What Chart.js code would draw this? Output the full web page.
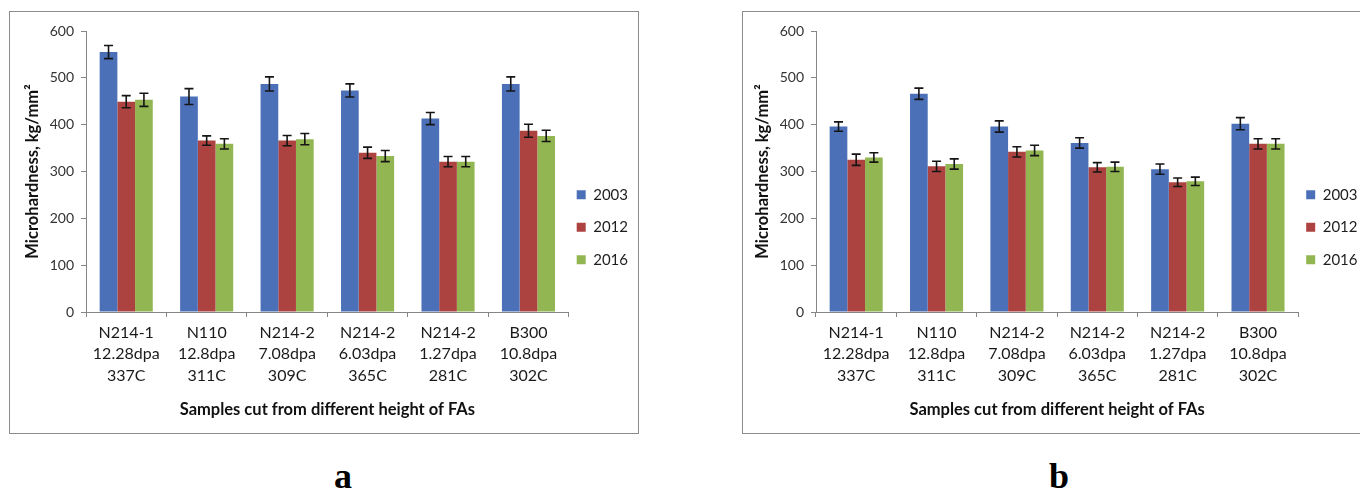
<!DOCTYPE html>
<html>
<head>
<meta charset="utf-8">
<script src="https://cdn.jsdelivr.net/npm/chart.js@4.4.1/dist/chart.umd.min.js"></script>
<style>
  html, body { margin: 0; padding: 0; background: #fff; }
  body { width: 1360px; height: 489px; overflow: hidden; position: relative; }
  .frame { position: absolute; top: 11px; width: 630px; height: 423px; border: 1px solid #8c8c8c; box-sizing: border-box; background: #fff; }
  #frameA { left: 9px; }
  #frameB { left: 742px; }
  .frame canvas { display: block; }
  .panel { position: absolute; top: 458px; font: bold 36px "Liberation Serif", "DejaVu Serif", serif; line-height: 36px; transform: translateX(-50%); color: #000; }
</style>
</head>
<body>
<div class="frame" id="frameA"><canvas id="chartA" width="628" height="421"></canvas></div>
<div class="frame" id="frameB"><canvas id="chartB" width="628" height="421"></canvas></div>
<div class="panel" style="left:343px">a</div>
<div class="panel" style="left:1059px">b</div>

<script>
// Sample descriptors (three-line category labels)
const sampleNames = ['N214-1', 'N110', 'N214-2', 'N214-2', 'N214-2', 'B300'];
const doses       = ['12.28dpa', '12.8dpa', '7.08dpa', '6.03dpa', '1.27dpa', '10.8dpa'];
const temps       = ['337C', '311C', '309C', '365C', '281C', '302C'];
const years       = ['2003', '2012', '2016'];
const yTickValues = [0, 100, 200, 300, 400, 500, 600];

// Panel a: microhardness, kg/mm²
const a2003 = [555, 460, 487, 473, 413, 487];
const a2012 = [449, 366, 366, 340, 321, 387];
const a2016 = [453, 359, 369, 333, 321, 376];
const aErr2003 = [14, 17, 15, 14, 13, 15];
const aErr2012 = [13, 10, 11, 12, 11, 14];
const aErr2016 = [14, 11, 12, 12, 11, 12];

// Panel b: microhardness, kg/mm²
const b2003 = [396, 466, 396, 361, 305, 402];
const b2012 = [325, 311, 342, 309, 277, 359];
const b2016 = [330, 316, 345, 310, 279, 359];
const bErr2003 = [10, 12, 12, 11, 11, 13];
const bErr2012 = [12, 11, 11, 10, 9, 11];
const bErr2016 = [10, 11, 11, 10, 9, 11];

const FONT = 'Lato, "Open Sans", sans-serif';
const AXIS = '#868686';
const COLORS = ['#4B70B8', '#AD4341', '#92B651'];

Chart.defaults.font.family = FONT;

// Draws symmetric error bars on top of each bar, using the y scale.
const errorBars = {
  id: 'errorBars',
  afterDatasetsDraw(chart, args, opts) {
    const { ctx } = chart;
    const yScale = chart.scales.y;
    ctx.save();
    ctx.strokeStyle = opts.color;
    ctx.lineWidth = opts.width;
    chart.data.datasets.forEach((ds, d) => {
      const meta = chart.getDatasetMeta(d);
      meta.data.forEach((bar, i) => {
        const v = ds.data[i];
        const e = ds.errors[i];
        const top = yScale.getPixelForValue(v + e);
        const bot = yScale.getPixelForValue(v - e);
        const x = bar.x;
        ctx.beginPath();
        ctx.moveTo(x, top); ctx.lineTo(x, bot);
        ctx.moveTo(x - opts.cap, top); ctx.lineTo(x + opts.cap, top);
        ctx.moveTo(x - opts.cap, bot); ctx.lineTo(x + opts.cap, bot);
        ctx.stroke();
      });
    });
    ctx.restore();
  }
};

function buildChart(id, series, errs, geom) {
  return new Chart(document.getElementById(id), {
    type: 'bar',
    data: {
      labels: sampleNames.map((n, i) => [n, doses[i], temps[i]]),
      datasets: years.map((yr, k) => ({
        label: yr,
        data: series[k],
        errors: errs[k],
        backgroundColor: COLORS[k],
        borderWidth: 0,
        categoryPercentage: 0.66,
        barPercentage: 1
      }))
    },
    options: {
      responsive: false,
      animation: false,
      devicePixelRatio: 1,
      layout: { padding: { left: 0, top: geom.top, right: geom.right, bottom: 0 } },
      plugins: {
        tooltip: { enabled: false },
        errorBars: { color: '#151515', width: 1.6, cap: 4.5 },
        legend: {
          position: 'right',
          align: 'center',
          labels: {
            boxWidth: 9,
            boxHeight: 9,
            padding: 8,
            color: '#1e1e1e',
            font: { family: FONT, size: 15, lineHeight: '24.5px' },
            generateLabels(chart) {
              return Chart.defaults.plugins.legend.labels.generateLabels(chart)
                .map(item => Object.assign({}, item, { text: [item.text], lineWidth: 0 }));
            }
          }
        }
      },
      scales: {
        x: {
          offset: true,
          grid: { offset: true, drawOnChartArea: false, drawTicks: true, tickLength: 5, color: AXIS },
          border: { display: true, color: AXIS, width: 1 },
          ticks: {
            color: '#1a1a1a',
            font: { family: FONT, size: 16, lineHeight: '21.5px' },
            padding: 5,
            maxRotation: 0,
            autoSkip: false
          },
          title: {
            display: true,
            text: 'Samples cut from different height of FAs',
            color: '#111',
            font: { family: FONT, size: 16.5, weight: 'bold' },
            padding: { top: 0, bottom: 13 }
          },
          afterFit(s) { s.height = 121; }
        },
        y: {
          min: 0,
          max: 600,
          afterBuildTicks(s) { s.ticks = yTickValues.map(v => ({ value: v })); },
          ticks: { color: '#333', font: { family: FONT, size: 14 }, padding: 7 },
          grid: { drawOnChartArea: false, drawTicks: true, tickLength: 5, color: AXIS },
          border: { display: true, color: AXIS, width: 1 },
          title: {
            display: true,
            text: 'Microhardness, kg/mm²',
            color: '#111',
            font: { family: FONT, size: 16.5, weight: 'bold' },
            padding: { top: geom.yTitlePad, bottom: 0 }
          },
          afterFit(s) { s.width = geom.yWidth; }
        }
      }
    },
    plugins: [errorBars]
  });
}

buildChart('chartA', [a2003, a2012, a2016], [aErr2003, aErr2012, aErr2016],
  { top: 19, right: 0, yWidth: 76, yTitlePad: 13 });
buildChart('chartB', [b2003, b2012, b2016], [bErr2003, bErr2012, bErr2016],
  { top: 19, right: 3.5, yWidth: 73, yTitlePad: 10 });
</script>
</body>
</html>
